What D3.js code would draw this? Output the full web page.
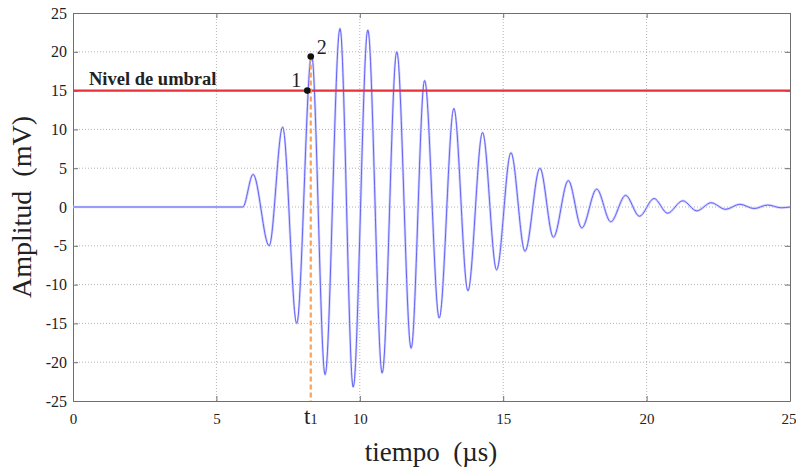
<!DOCTYPE html>
<html>
<head>
<meta charset="utf-8">
<script src="https://cdn.jsdelivr.net/npm/d3@7"></script>
<style>
  body { margin: 0; background: #fff; }
  text { font-family: "Liberation Serif", "Times New Roman", serif; fill: #222; }
</style>
</head>
<body>
<div id="root"></div>
<script>
const root = d3.select("#root");

const width = 796;
const height = 468;
const margin = { top: 13, right: 6, bottom: 67, left: 73 };
const innerWidth = width - margin.left - margin.right;
const innerHeight = height - margin.top - margin.bottom;
const serif = "'Liberation Serif', 'Times New Roman', serif";

// values
const xTicks = [0, 5, 10, 15, 20, 25];
const yTicks = [-25, -20, -15, -10, -5, 0, 5, 10, 15, 20, 25];

// waveform: start of the flat part, then the successive peaks and troughs (µs, mV)
const waveTimes = [0, 5.92, 6.28, 6.84, 7.31, 7.8, 8.32, 8.79, 9.31, 9.77, 10.28, 10.78,
  11.29, 11.79, 12.26, 12.77, 13.28, 13.77, 14.28, 14.77, 15.27, 15.76, 16.28, 16.75,
  17.27, 17.74, 18.26, 18.75, 19.27, 19.75, 20.26, 20.73, 21.26, 21.75, 22.25, 22.75,
  23.25, 23.75, 24.22, 24.7, 25];
const waveValues = [0, 0, 4.2, -5.0, 10.3, -15.0, 19.6, -21.6, 23.0, -23.2, 22.8, -21.4,
  20.0, -18.2, 16.3, -14.3, 12.7, -10.8, 9.6, -8.1, 7.0, -5.7, 5.0, -3.9,
  3.4, -2.7, 2.3, -1.9, 1.5, -1.2, 1.1, -0.8, 0.8, -0.5, 0.55, -0.3,
  0.35, -0.2, 0.25, -0.1, 0];

const threshold = 15;
const thresholdLabel = "Nivel de umbral";
const markTimes = [8.17, 8.29];
const markValues = [15.0, 19.4];
const markLabels = ["1", "2"];
const t1 = 8.29;

const xScale = d3.scaleLinear().domain([0, 25]).range([0, innerWidth]);
const yScale = d3.scaleLinear().domain([-25, 25]).range([innerHeight, 0]);

const svg = root
  .append("svg")
  .attr("width", width)
  .attr("height", height)
  .attr("viewBox", `0 0 ${width} ${height}`);

const innerChart = svg
  .append("g")
  .attr("transform", `translate(${margin.left}, ${margin.top})`);

// dotted grid
innerChart
  .selectAll(".grid-x")
  .data(xTicks.slice(1, -1))
  .join("line")
  .attr("class", "grid-x")
  .attr("x1", (d) => xScale(d))
  .attr("x2", (d) => xScale(d))
  .attr("y1", 0)
  .attr("y2", innerHeight)
  .attr("stroke", "#b4b4b4")
  .attr("stroke-dasharray", "1,2");

innerChart
  .selectAll(".grid-y")
  .data(yTicks.slice(1, -1))
  .join("line")
  .attr("class", "grid-y")
  .attr("x1", 0)
  .attr("x2", innerWidth)
  .attr("y1", (d) => yScale(d))
  .attr("y2", (d) => yScale(d))
  .attr("stroke", "#b4b4b4")
  .attr("stroke-dasharray", "1,2");

// axes (inner ticks, box) - plain hyphen for negatives
const plain = (d) => String(d);
const bottomAxis = d3.axisBottom(xScale).tickValues(xTicks).tickFormat(plain)
  .tickSizeInner(-5).tickSizeOuter(0).tickPadding(12);
const leftAxis = d3.axisLeft(yScale).tickValues(yTicks).tickFormat(plain)
  .tickSizeInner(-5).tickSizeOuter(0).tickPadding(6);

const gx = innerChart.append("g").attr("transform", `translate(0, ${innerHeight})`).call(bottomAxis)
  .attr("font-family", serif).attr("font-size", 15);
const gy = innerChart.append("g").call(leftAxis)
  .attr("font-family", serif).attr("font-size", 16);
const gTop = innerChart.append("g")
  .call(d3.axisTop(xScale).tickValues(xTicks).tickSizeInner(-5).tickSizeOuter(0));
const gRight = innerChart.append("g").attr("transform", `translate(${innerWidth}, 0)`)
  .call(d3.axisRight(yScale).tickValues(yTicks).tickSizeInner(-5).tickSizeOuter(0));
gTop.selectAll("text").remove();
gRight.selectAll("text").remove();

svg.selectAll(".domain, .tick line").attr("stroke", "#6f6f6f");
svg.selectAll(".tick text").attr("fill", "#222");
gx.selectAll(".tick:last-of-type text").attr("text-anchor", "end").attr("dx", 6);

// waveform
const waveData = waveTimes.map((t, i) => ({ t, v: waveValues[i] }));
const lineGenerator = d3
  .line()
  .x((d) => xScale(d.t))
  .y((d) => yScale(d.v))
  .curve(d3.curveMonotoneX);

innerChart
  .append("path")
  .datum(waveData)
  .attr("d", lineGenerator)
  .attr("fill", "none")
  .attr("stroke", "#d2d2ff")
  .attr("stroke-width", 2.6);

innerChart
  .append("path")
  .datum(waveData)
  .attr("d", lineGenerator)
  .attr("fill", "none")
  .attr("stroke", "#6464f4")
  .attr("stroke-width", 1);

// threshold
innerChart
  .append("line")
  .attr("x1", 0)
  .attr("x2", innerWidth)
  .attr("y1", yScale(threshold))
  .attr("y2", yScale(threshold))
  .attr("stroke", "#e8303a")
  .attr("stroke-width", 2.4);

innerChart
  .append("text")
  .text(thresholdLabel)
  .attr("x", 16)
  .attr("y", yScale(threshold) - 6)
  .attr("font-size", 18.5)
  .attr("font-weight", 700)
  .attr("fill", "#111");

// t1 marker line
innerChart
  .append("line")
  .attr("x1", xScale(t1))
  .attr("x2", xScale(t1))
  .attr("y1", yScale(markValues[1]))
  .attr("y2", innerHeight)
  .attr("stroke", "#f7a25f")
  .attr("stroke-width", 2.2)
  .attr("stroke-dasharray", "5,3");

// points 1 and 2
const marks = markTimes.map((t, i) => ({ t, v: markValues[i], label: markLabels[i] }));
innerChart
  .selectAll(".mark")
  .data(marks)
  .join("circle")
  .attr("class", "mark")
  .attr("cx", (d) => xScale(d.t))
  .attr("cy", (d) => yScale(d.v))
  .attr("r", 3.3)
  .attr("fill", "#111");

innerChart
  .selectAll(".mark-label")
  .data(marks)
  .join("text")
  .attr("class", "mark-label")
  .text((d) => d.label)
  .attr("x", (d, i) => xScale(d.t) + (i === 0 ? -16 : 6))
  .attr("y", (d, i) => yScale(d.v) + (i === 0 ? -4 : -2))
  .attr("font-size", 20)
  .attr("fill", "#111");

// t1 label under the axis
const t1Label = svg
  .append("text")
  .attr("x", margin.left + xScale(t1))
  .attr("y", margin.top + innerHeight + 23)
  .attr("text-anchor", "middle")
  .attr("font-size", 23);
t1Label.append("tspan").text("t");
t1Label.append("tspan").text("1").attr("font-size", 14);

// axis titles
svg
  .append("text")
  .text("tiempo  (µs)")
  .attr("x", 431)
  .attr("y", 461)
  .attr("text-anchor", "middle")
  .attr("font-size", 27)
  .attr("xml:space", "preserve");

svg
  .append("text")
  .text("Amplitud  (mV)")
  .attr("transform", `translate(31, ${margin.top + innerHeight / 2}) rotate(-90)`)
  .attr("text-anchor", "middle")
  .attr("font-size", 28)
  .attr("xml:space", "preserve");
</script>
</body>
</html>
